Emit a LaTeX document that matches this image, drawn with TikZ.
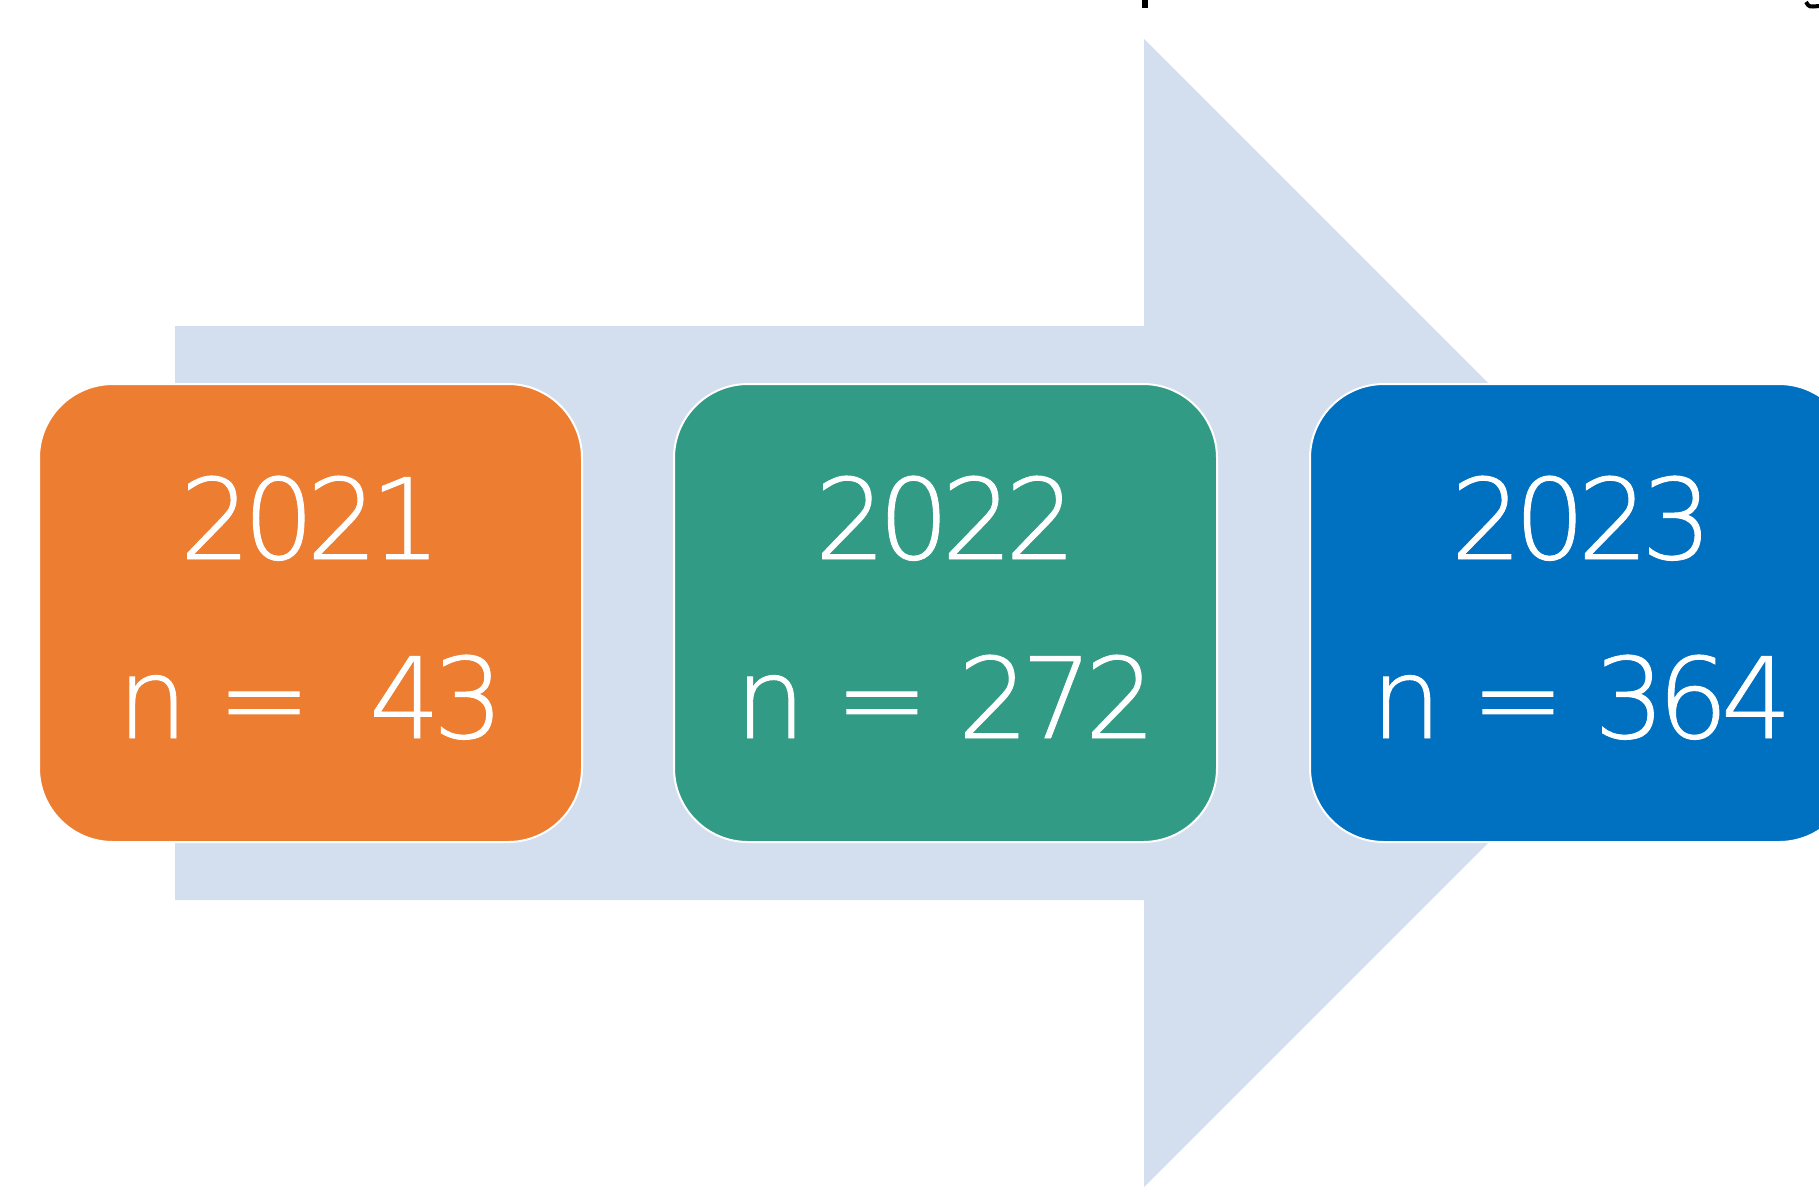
\documentclass[tikz,border=0pt]{standalone}
\usepackage{fontspec}
\setmainfont{DejaVu Sans}[UprightFont=* ExtraLight, FakeBold=0.8]
\newcommand{\tightdigits}[1]{{\addfontfeature{LetterSpace=-7}#1}}

\definecolor{arrowblue}{HTML}{D3DEEF}
\definecolor{boxorange}{HTML}{ED7D31}
\definecolor{boxgreen}{HTML}{329B86}
\definecolor{boxblue}{HTML}{0070C0}

\tikzset{
  yearbox/.style={draw=white, line width=1pt, rounded corners=37pt,
    minimum width=271.5pt, minimum height=229pt, inner sep=0pt},
  yeartext/.style={text=white, inner sep=0pt, anchor=base,
    font=\fontsize{56}{60}\selectfont}
}

\begin{document}
\begin{tikzpicture}[x=0.5pt, y=-0.5pt]
                    \useasboundingbox (0,0) rectangle (1819,1191);
                    \clip (0,0) rectangle (1819,1191);

                    \pgfmathsetmacro{\bw}{543}
                    \pgfmathsetmacro{\mid}{613}

                    % big arrow behind the boxes
                    \fill[arrowblue] (175,326) -- (1144,326) -- (1144,39)
                        -- (1718,\mid) -- (1144,1187) -- (1144,900)
                        -- (175,900) -- cycle;

                    % cut-off marks along the top edge
                    \fill[black] (1142,0) rectangle (1148,8);
                    \draw[black, line width=2pt] (1806,2) .. controls (1809,7) .. (1819,6);

                    \foreach \yr/\num/\gap/\col/\x in {2021/43/0.26em/boxorange/39,
                                                      2022/272/0em/boxgreen/674,
                                                      2023/364/0em/boxblue/1310} {
                        \node[yearbox, fill=\col] (box\yr) at (\x + \bw/2, \mid) {};
                        \node[yeartext] (year\yr) at (\x + \bw/2, 559) {\tightdigits{\yr}};
                        \node[yeartext] (count\yr) at (\x + \bw/2, 738)
                            {n\hspace{0.26em}=\hspace{0.26em}\hspace{\gap}\tightdigits{\num}};
                    }
                \end{tikzpicture}
\end{document}
